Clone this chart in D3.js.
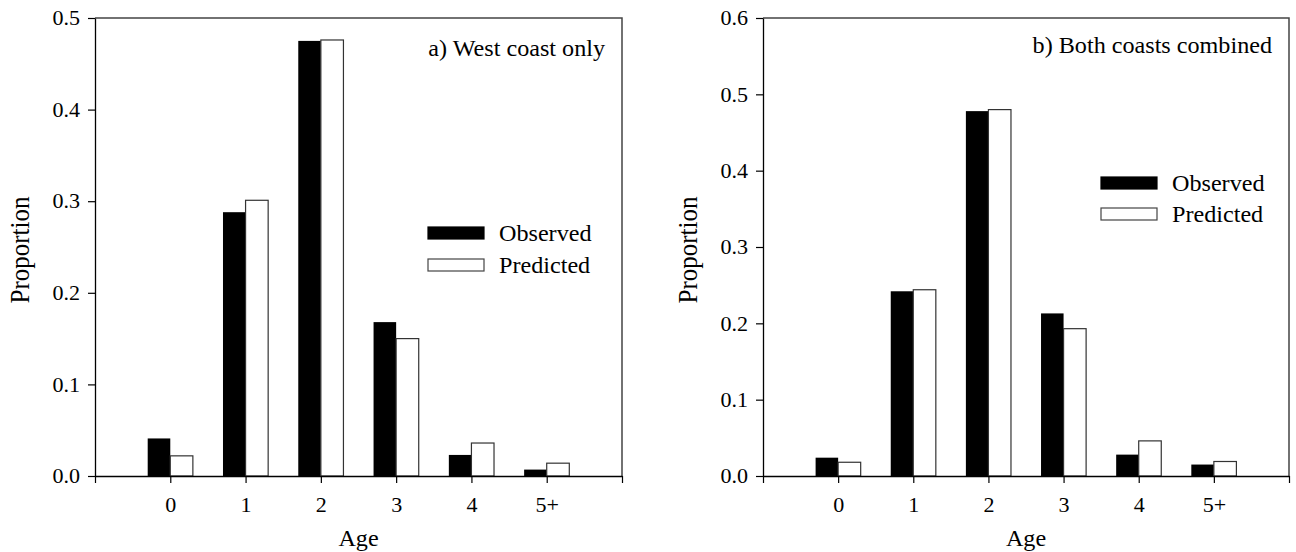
<!DOCTYPE html>
<html>
<head>
<meta charset="utf-8">
<script src="https://cdn.jsdelivr.net/npm/d3@7"></script>
<style>
  body { margin: 0; background: #fff; }
  svg text { font-family: "Liberation Serif", "Times New Roman", Times, serif; fill: #000; }
</style>
</head>
<body>
<svg id="chart" width="1296" height="552"></svg>
<script>
// age classes on the x axis
const ageLabels = ["0", "1", "2", "3", "4", "5+"];

// a) West coast only
const westObserved  = [0.041, 0.288, 0.475, 0.168, 0.023, 0.007];
const westPredicted = [0.022, 0.301, 0.476, 0.150, 0.036, 0.014];
const westTicks = [0, 0.1, 0.2, 0.3, 0.4, 0.5];

// b) Both coasts combined
const bothObserved  = [0.024, 0.242, 0.478, 0.213, 0.028, 0.015];
const bothPredicted = [0.018, 0.244, 0.480, 0.193, 0.046, 0.019];
const bothTicks = [0, 0.1, 0.2, 0.3, 0.4, 0.5, 0.6];

const seriesNames = ["Observed", "Predicted"];

const svg = d3.select("#chart");
const SX = 1.05; // source figure is stretched a little horizontally
const serif = "\"Liberation Serif\", \"Times New Roman\", Times, serif";

function stretchedText(parent, x, y, txt, size, anchor) {
  return parent.append("g")
    .attr("transform", `translate(${x},${y}) scale(${SX},1)`)
    .append("text")
    .attr("text-anchor", anchor || "start")
    .style("font-size", size + "px")
    .text(txt);
}

function drawPanel(opts) {
  const { left, right, top, bottom, observed, predicted, ticks, title, legendX, legendY } = opts;
  const g = svg.append("g");

  const x = d3.scaleLinear().domain([-1, 6]).range([left, right]);
  const y = d3.scaleLinear().domain([0, d3.max(ticks)]).range([bottom, top]);
  const barW = 0.3;

  // frame (top + right)
  g.append("path")
    .attr("d", `M${left},${top}H${right}V${bottom}`)
    .attr("fill", "none")
    .attr("stroke", "#444")
    .attr("stroke-width", 1.5);

  // bars
  const rows = ageLabels.map((a, i) => ({ i, obs: observed[i], pred: predicted[i] }));

  g.selectAll(".obs")
    .data(rows)
    .enter()
    .append("rect")
    .attr("class", "obs")
    .attr("x", d => x(d.i - barW))
    .attr("width", d => x(d.i) - x(d.i - barW))
    .attr("y", d => y(d.obs))
    .attr("height", d => y(0) - y(d.obs))
    .attr("fill", "#000");

  g.selectAll(".pred")
    .data(rows)
    .enter()
    .append("rect")
    .attr("class", "pred")
    .attr("x", d => x(d.i))
    .attr("width", d => x(d.i + barW) - x(d.i))
    .attr("y", d => y(d.pred))
    .attr("height", d => y(0) - y(d.pred))
    .attr("fill", "#fff")
    .attr("stroke", "#333")
    .attr("stroke-width", 1.2);

  // y axis
  const yAxis = d3.axisLeft(y)
    .tickValues(ticks)
    .tickFormat(d3.format(".1f"))
    .tickSizeInner(7)
    .tickSizeOuter(0)
    .tickPadding(8);
  const ya = g.append("g")
    .attr("transform", `translate(${left},0)`)
    .call(yAxis);
  ya.select(".domain").attr("stroke", "#000").attr("stroke-width", 1.3);
  ya.selectAll(".tick line").attr("stroke", "#000").attr("stroke-width", 1.2);
  ya.selectAll(".tick text")
    .style("font-size", "21px")
    .style("font-family", serif)
    .attr("transform", `translate(-15,0) scale(${SX},1)`)
    .attr("x", 0);

  // x axis
  const xAxis = d3.axisBottom(x)
    .tickValues([-1, 0, 1, 2, 3, 4, 5, 6])
    .tickFormat(d => (d >= 0 && d < ageLabels.length) ? ageLabels[d] : "")
    .tickSizeInner(7)
    .tickSizeOuter(0)
    .tickPadding(14);
  const xa = g.append("g")
    .attr("transform", `translate(0,${bottom})`)
    .call(xAxis);
  xa.select(".domain").attr("stroke", "#000").attr("stroke-width", 1.3);
  xa.selectAll(".tick line").attr("stroke", "#000").attr("stroke-width", 1.2);
  xa.selectAll(".tick text")
    .style("font-size", "21px")
    .style("font-family", serif)
    .attr("transform", `scale(${SX},1)`)
    .attr("x", function () {
      // keep the label centred on the tick after the stretch
      return 0;
    });

  // axis titles
  stretchedText(g, (left + right) / 2, 546, "Age", 23, "middle");
  g.append("text")
    .attr("transform", `translate(${left - 66},${(top + bottom) / 2 + 3}) rotate(-90) scale(1,${SX})`)
    .attr("text-anchor", "middle")
    .style("font-size", "25px")
    .text("Proportion");

  // panel title
  stretchedText(g, right - 17, opts.titleY, title, 23, "end");

  // legend
  const fills = ["#000", "#fff"];
  seriesNames.forEach((name, k) => {
    const yy = legendY + k * opts.legendStep;
    g.append("rect")
      .attr("x", legendX)
      .attr("y", yy)
      .attr("width", 56)
      .attr("height", 12)
      .attr("fill", fills[k])
      .attr("stroke", k ? "#444" : "#000")
      .attr("stroke-width", 1.2);
    stretchedText(g, legendX + 71, yy + 14, name, 23, "start");
  });
}

drawPanel({
  left: 95, right: 622, top: 18, bottom: 476,
  observed: westObserved, predicted: westPredicted, ticks: westTicks,
  title: "a) West coast only", titleY: 56,
  legendX: 428, legendY: 227, legendStep: 32
});

drawPanel({
  left: 763, right: 1289, top: 18, bottom: 476,
  observed: bothObserved, predicted: bothPredicted, ticks: bothTicks,
  title: "b) Both coasts combined", titleY: 53,
  legendX: 1101, legendY: 177, legendStep: 31
});
</script>
</body>
</html>
